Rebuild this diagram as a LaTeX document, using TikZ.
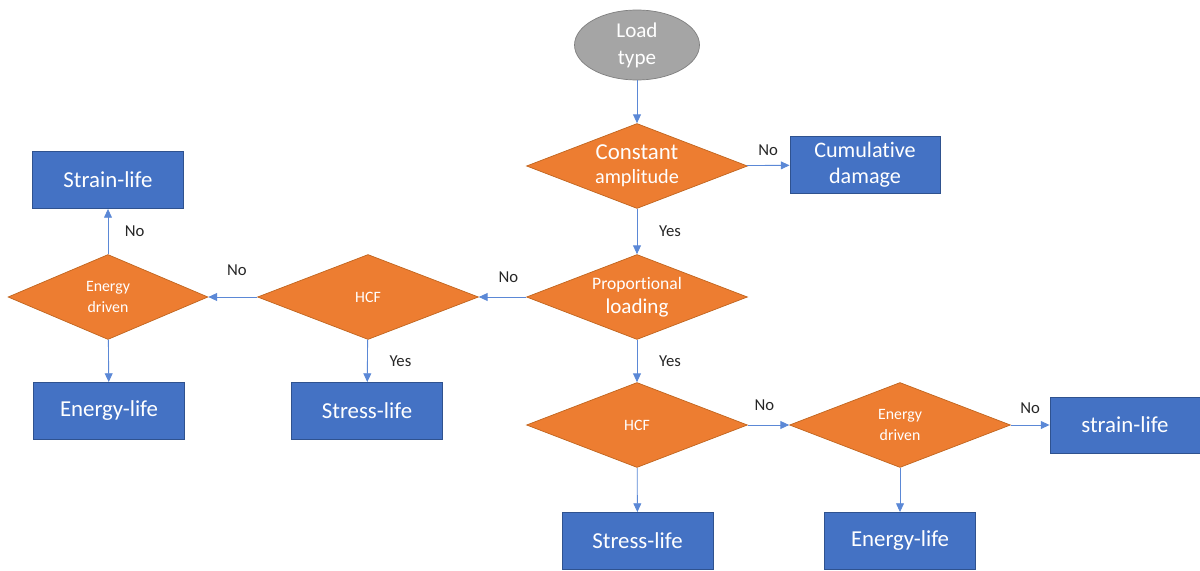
\documentclass[tikz,border=0pt]{standalone}
\usepackage{fontspec}
\setmainfont{Carlito}[RawFeature={-liga;-clig;-calt}]
\usetikzlibrary{shapes.geometric, arrows.meta}

\definecolor{decfill}{HTML}{ED7D31}
\definecolor{decline}{HTML}{C0651F}
\definecolor{resfill}{HTML}{4472C4}
\definecolor{resline}{HTML}{2F528F}
\definecolor{startfill}{HTML}{A5A5A5}
\definecolor{startline}{HTML}{7F7F7F}
\definecolor{linkblue}{HTML}{5B88D6}

\tikzset{
    decision/.style={diamond, shape aspect=2.6, draw=decline, line width=0.4pt, fill=decfill, text=white,
        inner sep=0pt, minimum width=4.42cm, minimum height=1.7cm, align=center},
    result/.style={rectangle, draw=resline, line width=0.5pt, fill=resfill, text=white,
        minimum width=3.02cm, minimum height=1.14cm, align=center,
        font=\fontsize{13}{15}\selectfont},
    link/.style={draw=linkblue, line width=0.5pt, -{Triangle[length=5pt, width=4.5pt]}},
    answer/.style={text=black!85, font=\fontsize{9.5}{11}\selectfont}
}

\begin{document}
\begin{tikzpicture}[x=0.02cm, y=-0.02cm]

        % Fix the page to the size of the reference
        \useasboundingbox (0,0) rectangle (1200,571);

        % Start node
        \node[ellipse, draw=startline, fill=startfill, text=white, minimum width=2.5cm,
              minimum height=1.4cm, inner sep=0pt, align=center,
              font=\fontsize{12}{15.4}\selectfont] (load) at (637,45) {Load\\type};

        % Decisions
        \node[decision, font=\fontsize{13}{13.5}\selectfont] (const) at (637,166)
            {Constant\\{\fontsize{11.5}{13.5}\selectfont amplitude}};
        \node[decision, font=\fontsize{10}{13.7}\selectfont] (prop) at (637,297)
            {Proportional\\{\fontsize{12}{13.7}\selectfont loading}};
        \node[decision, font=\fontsize{9}{12}\selectfont] (hcfL) at (368,297) {HCF};
        \node[decision, minimum width=4.0cm, font=\fontsize{9}{12}\selectfont] (enL) at (108,297) {Energy\\driven};
        \node[decision, font=\fontsize{9}{12}\selectfont] (hcfB) at (637,425) {HCF};
        \node[decision, font=\fontsize{9}{12}\selectfont] (enR) at (900,425) {Energy\\driven};

        % Results
        \node[result, minimum width=3.0cm, minimum height=1.12cm,
              font=\fontsize{12.6}{14.8}\selectfont] (cumul) at (865,165) {Cumulative\\damage};
        \node[result] (strainL) at (108,180) {Strain-life};
        \node[result] (energyL) at (109,411) {Energy-life};
        \node[result] (stressL) at (367,411) {Stress-life};
        \node[result, minimum width=3.0cm, minimum height=1.12cm] (strainR) at (1125,425) {strain-life};
        \node[result] (stressB) at (637.5,541) {Stress-life};
        \node[result] (energyB) at (900,541) {Energy-life};

        % Connectors
        \draw[link] (load) -- (const);
        \draw[link] (const) -- node[answer, above=2pt] {No} (cumul);
        \draw[link] (const) -- node[answer, right=9pt] {Yes} (prop);
        \draw[link] (prop) -- node[answer, above=4.5pt, xshift=3.3pt] {No} (hcfL);
        \draw[link] (hcfL) -- node[answer, above=8.6pt, xshift=2.3pt] {No} (enL);
        \draw[link] (enL) -- node[answer, right=6pt] {No} (strainL);
        \draw[link] (enL) -- (energyL);
        \draw[link] (hcfL) -- node[answer, right=9pt] {Yes} (stressL);
        \draw[link] (prop) -- node[answer, right=9pt] {Yes} (hcfB);
        \draw[link] (hcfB) -- node[answer, above=4.6pt, xshift=-2.3pt] {No} (enR);
        \draw[link] (enR) -- node[answer, above=2.7pt] {No} (strainR);
        \draw[link] (hcfB) -- (stressB);
        \draw[link] (enR) -- (energyB);

\end{tikzpicture}
\end{document}
